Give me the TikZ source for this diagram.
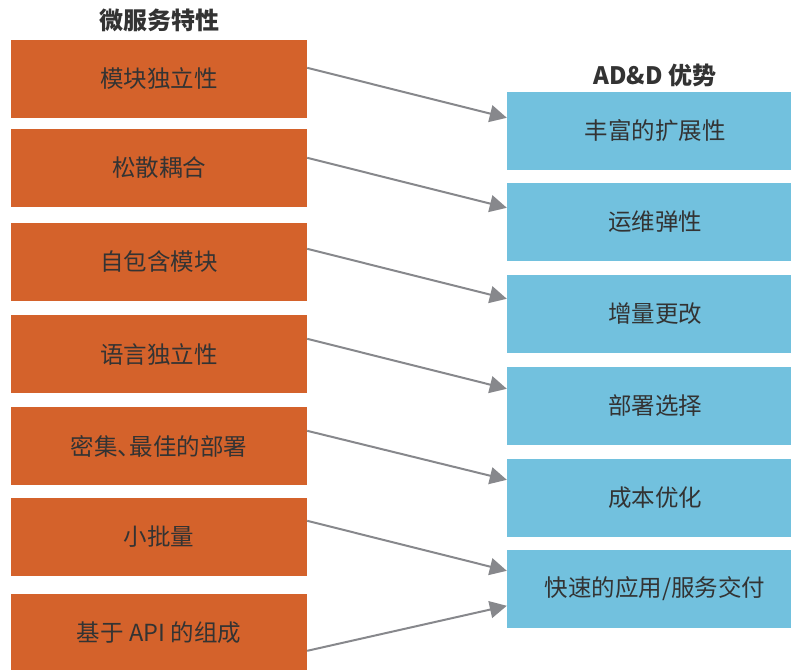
\documentclass[tikz,border=0pt]{standalone}
\usepackage{fontspec}
\setmainfont{Noto Sans CJK SC}
\usetikzlibrary{arrows.meta}
\definecolor{boxorange}{HTML}{D4622B}
\definecolor{boxblue}{HTML}{72C1DE}
\definecolor{txtgray}{HTML}{333333}
\definecolor{arrgray}{HTML}{87888C}
\tikzset{
  leftbox/.style={fill=boxorange, draw=none, minimum width=296pt, minimum height=78pt, inner sep=0pt, text=txtgray, font=\fontsize{23.5}{27}\selectfont},
  rightbox/.style={fill=boxblue, draw=none, minimum width=296pt, minimum height=78pt, inner sep=0pt, text=txtgray, font=\fontsize{23.5}{27}\selectfont},
  titletext/.style={inner sep=0pt, text=txtgray, font=\fontsize{24}{28}\selectfont\bfseries},
  conn/.style={draw=arrgray, line width=2pt, -{Triangle[length=17pt,width=17pt]}}
}
\begin{document}
\begin{tikzpicture}[x=1pt,y=-1pt]
\useasboundingbox (0,0) rectangle (791,669);
\node[titletext] (t1) at (159,20) {微服务特性};
\node[titletext] (t2) at (655,75) {AD\&D 优势};
\node[leftbox] (l1) at (159,79) {模块独立性};
\node[leftbox] (l2) at (159,168) {松散耦合};
\node[leftbox] (l3) at (159,262) {自包含模块};
\node[leftbox] (l4) at (159,354) {语言独立性};
\node[leftbox] (l5) at (159,446) {密集\makebox[0.5em][l]{、}最佳的部署};
\node[leftbox] (l6) at (159,537) {小批量};
\node[leftbox] (l7) at (159,633) {基于 API 的组成};
\node[rightbox] (r1) at (655,131) {丰富的扩展性};
\node[rightbox] (r2) at (655,222) {运维弹性};
\node[rightbox] (r3) at (655,314) {增量更改};
\node[rightbox] (r4) at (655,406) {部署选择};
\node[rightbox] (r5) at (655,498) {成本优化};
\node[rightbox] (r6) at (655,589) {快速的应用/服务交付};
\draw[conn] ([yshift=-28pt]l1.north east) -- ([yshift=-26pt]r1.north west);
\draw[conn] ([yshift=-29pt]l2.north east) -- ([yshift=-25pt]r2.north west);
\draw[conn] ([yshift=-26pt]l3.north east) -- ([yshift=-24pt]r3.north west);
\draw[conn] ([yshift=-24pt]l4.north east) -- ([yshift=-22pt]r4.north west);
\draw[conn] ([yshift=-24pt]l5.north east) -- ([yshift=-21pt]r5.north west);
\draw[conn] ([yshift=-23pt]l6.north east) -- ([yshift=-21pt]r6.north west);
\draw[conn] ([yshift=-57pt]l7.north east) -- ([yshift=-56pt]r6.north west);
\end{tikzpicture}
\end{document}
